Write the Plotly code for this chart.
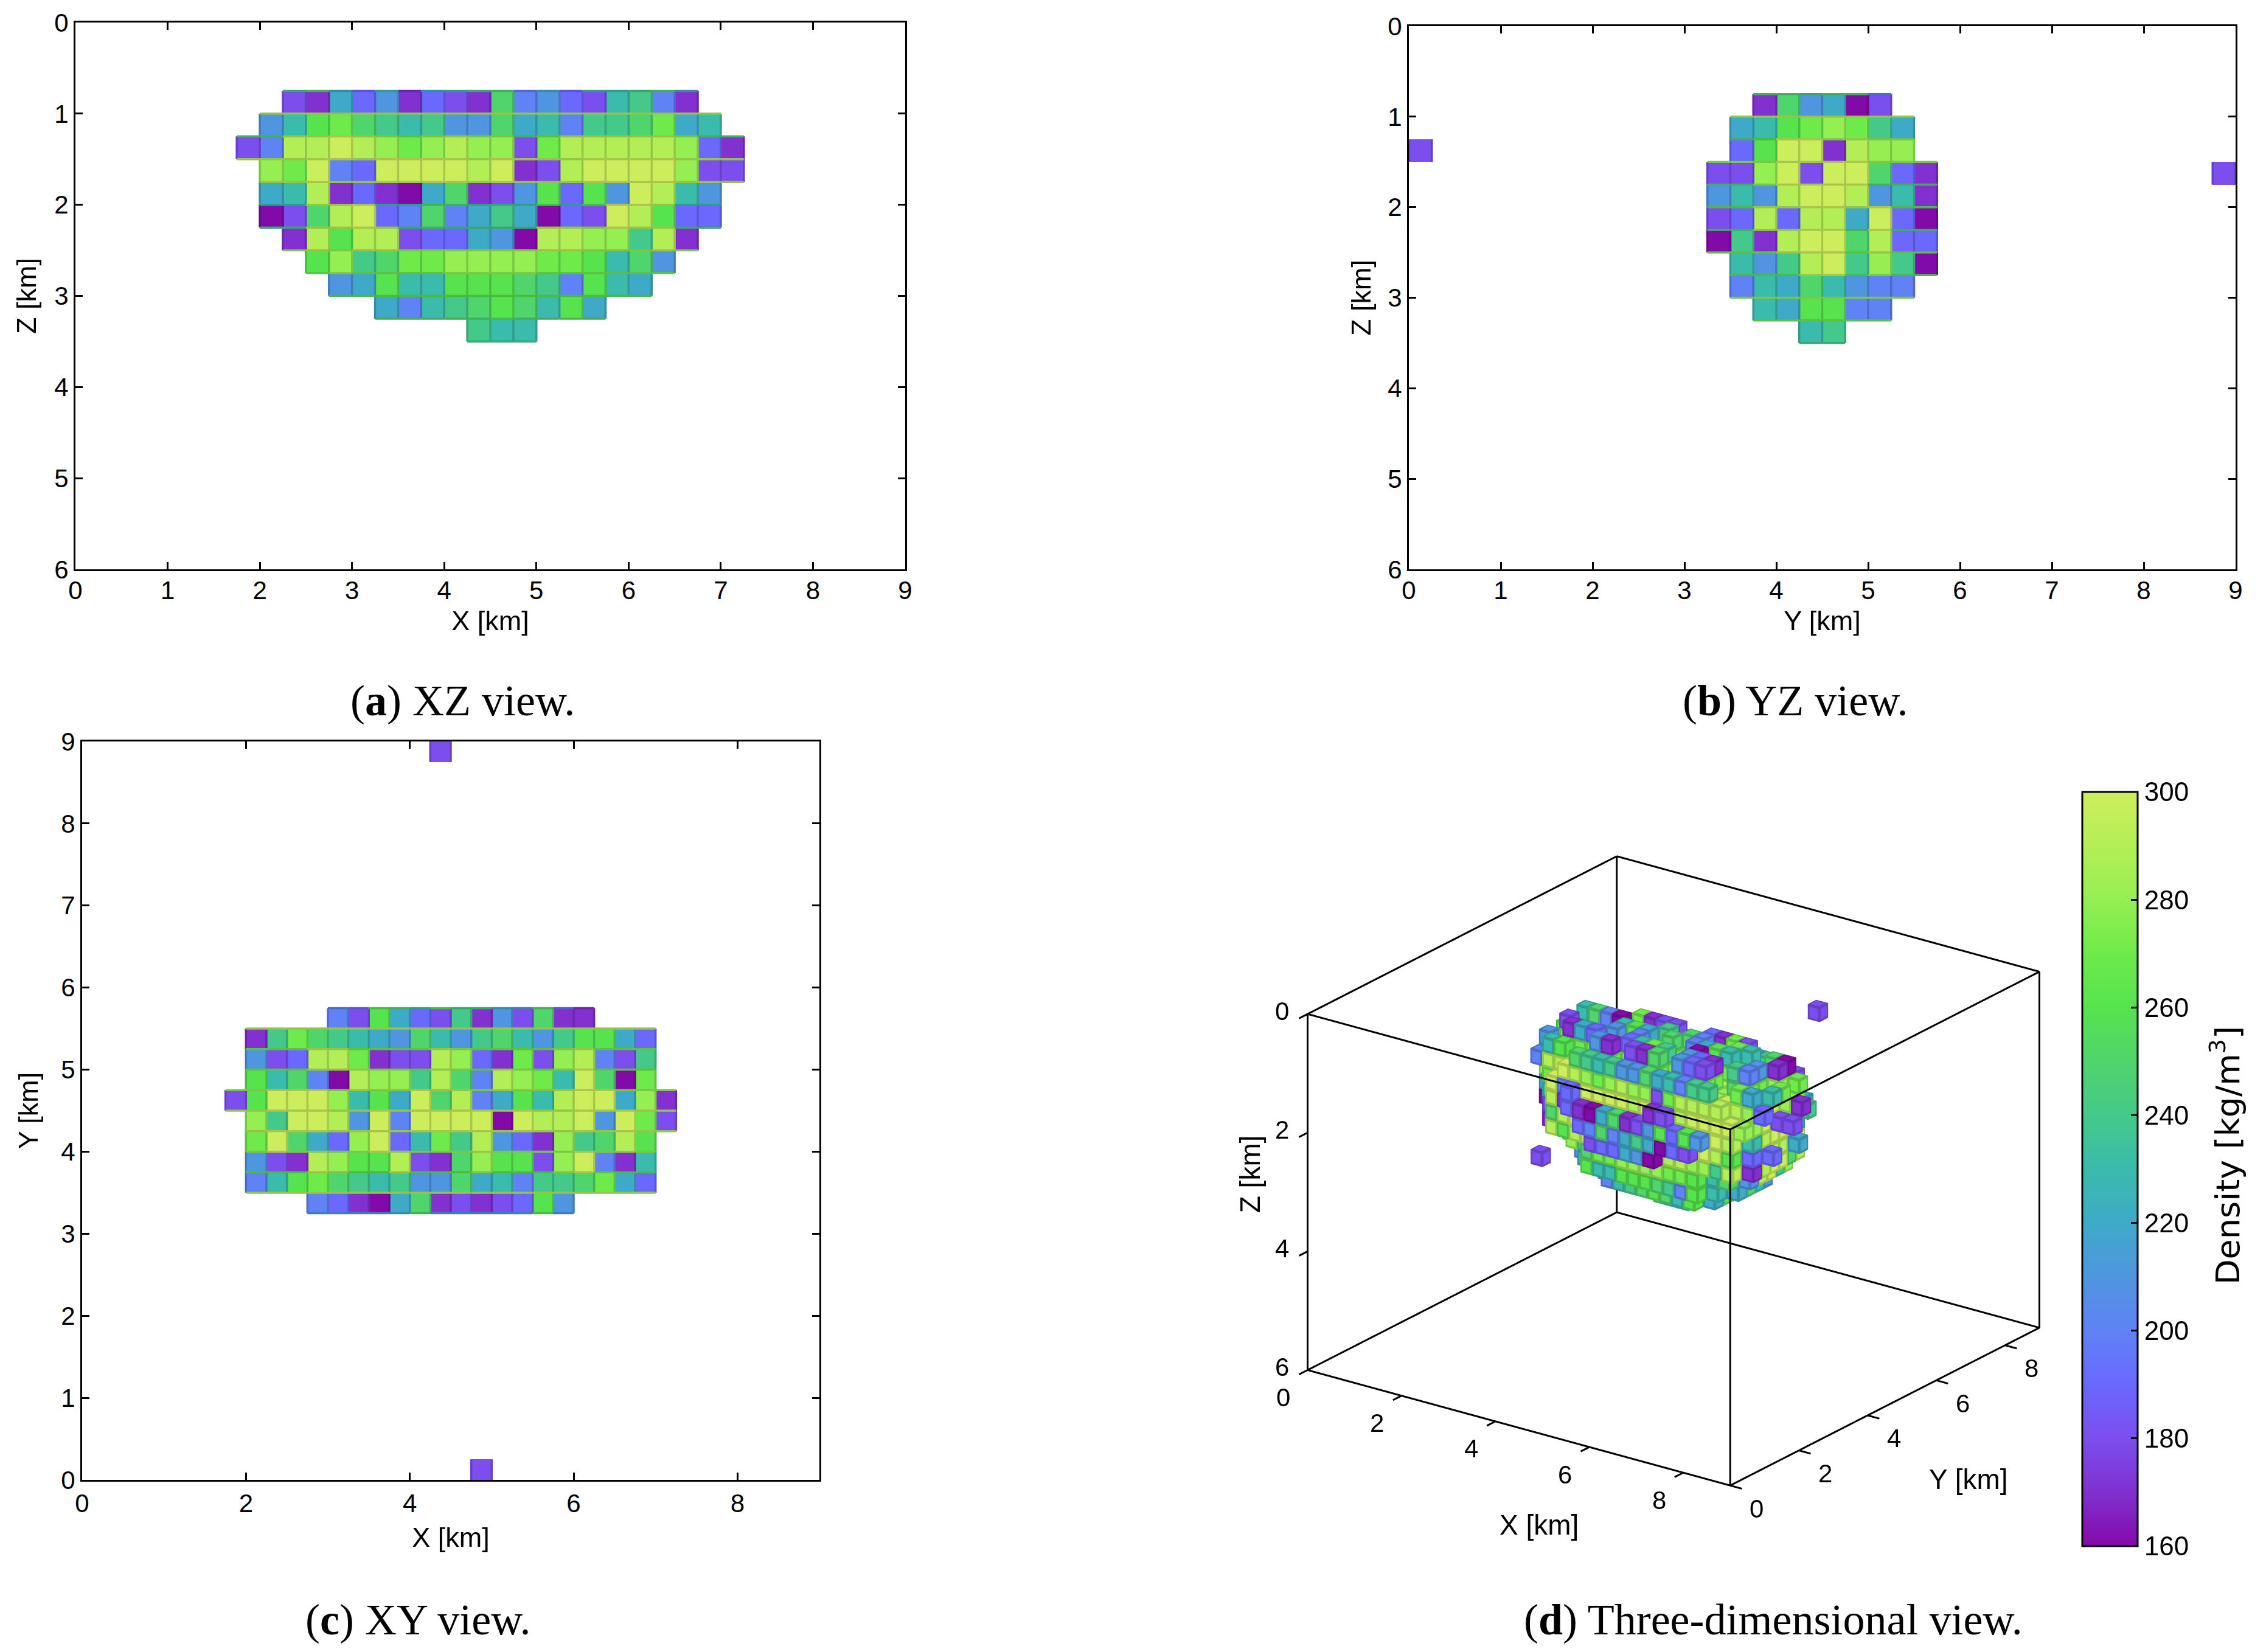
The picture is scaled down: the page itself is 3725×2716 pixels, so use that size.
import numpy as np
import plotly.graph_objects as go

W, H = 3725, 2716
STEP = 0.25
DENSITY_TICKS = [160, 180, 200, 220, 240, 260, 280, 300]
PALETTE = ["#820aa8", "#8230d0", "#7c4eee", "#6a68ff", "#5f82f5", "#5095df", "#3eaac8", "#3abbac",
           "#44c98a", "#50d46c", "#57e34e", "#6eea4a", "#95ef52", "#b4ee56", "#cdee5c"]
VMIN, VMAX = 160, 300

# XZ view: one list per depth row, z top edges in XZ_Z, x left edges in XZ_X0
XZ_Z = [0.75, 1.0, 1.25, 1.5, 1.75, 2.0, 2.25, 2.5, 2.75, 3.0, 3.25]
XZ_X0 = [2.25, 2.0, 1.75, 2.0, 2.0, 2.0, 2.25, 2.5, 2.75, 3.25, 4.25]
XZ_VALUES = [
    [180, 170, 220, 190, 210, 170, 190, 180, 170, 250, 200, 210, 190, 180, 230, 240, 200, 170],
    [210, 230, 260, 270, 250, 240, 230, 240, 210, 210, 250, 220, 230, 200, 240, 240, 250, 270, 220, 230],
    [180, 200, 290, 290, 300, 290, 280, 270, 280, 290, 280, 280, 180, 270, 290, 290, 290, 290, 290, 280, 190, 170],
    [280, 270, 300, 200, 190, 300, 300, 300, 300, 290, 300, 170, 180, 290, 300, 300, 300, 300, 280, 180, 180],
    [220, 230, 290, 170, 190, 170, 160, 220, 250, 170, 180, 210, 260, 190, 260, 210, 300, 290, 230, 210],
    [160, 180, 250, 290, 300, 190, 200, 250, 200, 220, 240, 220, 160, 190, 180, 300, 290, 260, 190, 190],
    [170, 290, 260, 290, 290, 180, 190, 190, 220, 210, 160, 290, 290, 280, 280, 240, 290, 170],
    [260, 280, 240, 250, 270, 270, 280, 280, 280, 280, 270, 270, 260, 230, 250, 210],
    [210, 220, 260, 230, 230, 260, 260, 260, 250, 240, 200, 260, 230, 220],
    [220, 200, 230, 240, 250, 260, 250, 230, 260, 220],
    [240, 230, 230],
]
XZ_TOP_EDGE = [240, 250, 220, 190, 230, 170, 220, 230, 240, 250, 200, 220, 190, 230, 230, 240, 250, 220]
XZ_EDGE_BASE = [0, 290, 250, 290, 290, 230, 240, 280, 270, 260, 250, 240]

# YZ view
YZ_Z = XZ_Z
YZ_Y0 = [3.75, 3.5, 3.5, 3.25, 3.25, 3.25, 3.25, 3.5, 3.5, 3.75, 4.25]
YZ_VALUES = [
    [170, 250, 210, 220, 160, 180],
    [220, 230, 260, 270, 280, 270, 240, 220],
    [190, 260, 300, 300, 170, 290, 280, 280],
    [180, 180, 280, 300, 180, 300, 300, 250, 190, 170],
    [210, 230, 210, 290, 300, 300, 290, 210, 230, 170],
    [180, 190, 290, 190, 290, 290, 220, 300, 190, 160],
    [160, 240, 170, 290, 300, 300, 250, 290, 190, 190],
    [230, 210, 240, 290, 300, 240, 280, 240, 160],
    [200, 230, 220, 250, 230, 210, 200, 200],
    [230, 220, 260, 260, 200, 200],
    [230, 240],
]
YZ_TOP_EDGE = [250, 250, 240, 250, 250, 200]
YZ_EDGE_BASE = [0, 290, 250, 280, 250, 260, 250, 270, 260, 280, 270, 240]

# XY view, rows from north to south
XY_Y = [5.5, 5.25, 5.0, 4.75, 4.5, 4.25, 4.0, 3.75, 3.5, 3.25]
XY_X0 = [3.0, 2.0, 2.0, 2.0, 1.75, 2.0, 2.0, 2.0, 2.0, 2.75]
XY_VALUES = [
    [200, 180, 260, 220, 190, 180, 240, 170, 210, 180, 250, 170, 170],
    [170, 240, 270, 250, 240, 230, 220, 210, 250, 230, 210, 240, 250, 230, 210, 240, 260, 260, 220, 190],
    [210, 180, 190, 290, 290, 270, 170, 180, 180, 290, 280, 190, 170, 270, 180, 280, 290, 200, 180, 240],
    [260, 230, 250, 200, 160, 290, 280, 280, 240, 290, 250, 200, 290, 280, 270, 230, 300, 250, 160, 270],
    [180, 260, 300, 300, 300, 280, 230, 260, 220, 300, 250, 290, 200, 220, 260, 230, 290, 300, 300, 220, 280, 170],
    [280, 240, 300, 300, 290, 210, 300, 200, 300, 300, 300, 300, 160, 300, 290, 290, 300, 210, 300, 270, 180],
    [270, 300, 250, 220, 190, 280, 300, 190, 230, 270, 240, 290, 210, 190, 170, 280, 240, 250, 290, 260],
    [210, 180, 170, 290, 280, 260, 260, 290, 180, 170, 250, 280, 260, 260, 180, 280, 300, 200, 170, 230],
    [200, 230, 260, 270, 250, 240, 230, 240, 210, 210, 250, 220, 230, 200, 240, 240, 250, 270, 220, 190],
    [200, 190, 170, 160, 220, 250, 170, 180, 170, 180, 190, 260, 210],
]
XY_TOP_EDGE = [200, 190, 260, 250, 230, 260, 240, 240, 220, 210, 250, 190, 170]
XY_EDGE_BASE = [0, 290, 270, 270, 280, 290, 290, 280, 260, 290, 210]

# the two stray cells
STRAY_X = [4.75, 4.25]
STRAY_Y = [0.0, 8.75]
STRAY_Z = [1.25, 1.5]
STRAY_V = [180, 180]


def hexrgb(c):
    return tuple(int(c[i:i + 2], 16) for i in (1, 3, 5))


def color_of(v, f=1.0):
    t = (v - VMIN) / (VMAX - VMIN) * (len(PALETTE) - 1)
    i = min(int(round(t)), len(PALETTE) - 1)
    r, g, b = hexrgb(PALETTE[i])
    return "rgb(%d,%d,%d)" % (r * f, g * f, b * f)


colorscale = [[i / (len(PALETTE) - 1), c] for i, c in enumerate(PALETTE)]
fig = go.Figure()
EDGE = 0.83


def add_panel(rows, axis, cols0, rowv, base, top, xname, yname, strays, descending=False):
    xs = np.arange(0, 9, STEP)
    ys = np.arange(0, 9, STEP)
    grid = np.full((len(ys), len(xs)), np.nan)
    cells = {}
    for r, vals in enumerate(rows):
        for c, v in enumerate(vals):
            ix = int(round((cols0[r] + c * STEP) / STEP))
            iy = int(round(rowv[r] / STEP))
            grid[iy, ix] = v
            cells[(ix, iy)] = v
    for sx, sy, v in strays:
        grid[int(round(sy / STEP)), int(round(sx / STEP))] = v
        cells[(int(round(sx / STEP)), int(round(sy / STEP)))] = v
    fig.add_trace(go.Heatmap(x=xs + STEP / 2, y=ys + STEP / 2, z=grid, coloraxis="coloraxis",
                             xaxis=axis[0], yaxis=axis[1], hoverinfo="skip"))
    segs_v, segs_h = {}, {}
    for (ix, iy), v in cells.items():
        x0, x1 = ix * STEP, (ix + 1) * STEP
        y0, y1 = iy * STEP, (iy + 1) * STEP
        segs_v.setdefault(v, []).append(((x1, y0), (x1, y1)))
        if (ix - 1, iy) not in cells:
            segs_v.setdefault(v, []).append(((x0, y0), (x0, y1)))
    for r, vals in enumerate(rows):
        for c, v in enumerate(vals):
            ix = int(round((cols0[r] + c * STEP) / STEP))
            iy = int(round(rowv[r] / STEP))
            x0, x1 = ix * STEP, (ix + 1) * STEP
            if descending:
                edge_y, other = (iy + 1) * STEP, (ix, iy + 1)
            else:
                edge_y, other = iy * STEP, (ix, iy - 1)
            if r == 0:
                ev = top[c]
            else:
                ev = max(v, cells.get(other, 0), base[r])
            segs_h.setdefault(ev, []).append(((x0, edge_y), (x1, edge_y)))
            if descending:
                e2y, o2 = iy * STEP, (ix, iy - 1)
            else:
                e2y, o2 = (iy + 1) * STEP, (ix, iy + 1)
            if o2 not in cells:
                ev2 = max(v, base[min(r + 1, len(base) - 1)])
                segs_h.setdefault(ev2, []).append(((x0, e2y), (x1, e2y)))
    for group in (segs_v, segs_h):
        for v, segs in sorted(group.items()):
            lx, ly = [], []
            for (a, b) in segs:
                lx += [a[0], b[0], None]
                ly += [a[1], b[1], None]
            fig.add_trace(go.Scatter(x=lx, y=ly, mode="lines", xaxis=axis[0], yaxis=axis[1],
                                     line=dict(color=color_of(v, EDGE), width=3.5),
                                     hoverinfo="skip", showlegend=False))


add_panel(XZ_VALUES, ("x", "y"), XZ_X0, XZ_Z, XZ_EDGE_BASE, XZ_TOP_EDGE, "X", "Z", [])
add_panel(YZ_VALUES, ("x2", "y2"), YZ_Y0, YZ_Z, YZ_EDGE_BASE, YZ_TOP_EDGE, "Y", "Z",
          [(STRAY_Y[i], STRAY_Z[i], STRAY_V[i]) for i in range(2)])
add_panel(XY_VALUES, ("x3", "y3"), XY_X0, XY_Y, XY_EDGE_BASE, XY_TOP_EDGE, "X", "Y",
          [(STRAY_X[i], STRAY_Y[i], STRAY_V[i]) for i in range(2)], descending=True)


def axis_style(title, dom, rng, ticks, standoff):
    return dict(domain=dom, range=rng, tickvals=ticks, ticktext=[str(t) for t in ticks], ticks="inside",
                ticklen=12, tickwidth=3, tickcolor="black", showline=True, linecolor="black", linewidth=3,
                mirror="ticks", showgrid=False, zeroline=False, title=dict(text=title, standoff=standoff,
                font=dict(family="Liberation Sans", size=45, color="black")),
                tickfont=dict(family="Liberation Sans", size=42, color="black"))


def px_x(a, b):
    return [a / W, b / W]


def px_y(top, bottom):
    return [1 - bottom / H, 1 - top / H]


layout = dict(width=W, height=H, autosize=False, margin=dict(l=0, r=0, t=0, b=0, autoexpand=False),
              paper_bgcolor="white", plot_bgcolor="white", showlegend=False)
layout["xaxis"] = axis_style("X [km]", px_x(124, 1488), [0, 9], list(range(10)), 12)
layout["xaxis"]["anchor"] = "y"
layout["xaxis"]["ticklabelstandoff"] = -4
layout["yaxis"] = axis_style("Z [km]", px_y(37, 936), [6, 0], list(range(7)), 16)
layout["yaxis"]["anchor"] = "x"
layout["xaxis2"] = axis_style("Y [km]", px_x(2316, 3675), [0, 9], list(range(10)), 12)
layout["xaxis2"]["anchor"] = "y2"
layout["xaxis2"]["ticklabelstandoff"] = -4
layout["yaxis2"] = axis_style("Z [km]", px_y(43, 936), [6, 0], list(range(7)), 14)
layout["yaxis2"]["anchor"] = "x2"
layout["xaxis3"] = axis_style("X [km]", px_x(135, 1347), [0, 9], [0, 2, 4, 6, 8], 18)
layout["xaxis3"]["anchor"] = "y3"
layout["yaxis3"] = axis_style("Y [km]", px_y(1219, 2433), [0, 9], list(range(10)), 24)
layout["yaxis3"]["anchor"] = "x3"

# ---------- 3D voxels rebuilt from the three surface views ----------
xz = {}
for r, vals in enumerate(XZ_VALUES):
    for c, v in enumerate(vals):
        xz[(int(round((XZ_X0[r] + c * STEP) / STEP)), int(round(XZ_Z[r] / STEP)))] = v
yz = {}
for r, vals in enumerate(YZ_VALUES):
    for c, v in enumerate(vals):
        yz[(int(round((YZ_Y0[r] + c * STEP) / STEP)), int(round(YZ_Z[r] / STEP)))] = v
xy = {}
for r, vals in enumerate(XY_VALUES):
    for c, v in enumerate(vals):
        xy[(int(round((XY_X0[r] + c * STEP) / STEP)), int(round(XY_Y[r] / STEP)))] = v

vox = set()
for k in sorted({key[1] for key in xz}):
    ixs = [key[0] for key in xz if key[1] == k]
    iys = [key[0] for key in yz if key[1] == k]
    cx, a = (min(ixs) + max(ixs)) / 2, (max(ixs) - min(ixs) + 1) / 2
    cy, b = (min(iys) + max(iys)) / 2, (max(iys) - min(iys) + 1) / 2
    for i in ixs:
        for j in iys:
            if (i, j) not in xy:
                continue
            if (abs(i - cx) / a) ** 2.5 + (abs(j - cy) / b) ** 2.5 <= 1.05:
                vox.add((i, j, k))

# low-density shell sits over a dense core: dense readings sit one step in
CORE_Y, CORE_X, CORE_Z = 14, 26, 5
vox = {(i, j, k) for (i, j, k) in vox
       if not (j < CORE_Y and xz.get((i, k), 0) >= 280)
       and not (i > CORE_X and yz.get((j, k), 0) >= 280)
       and not (k < CORE_Z and xy.get((i, j), 0) >= 280)}

value = {}
for (i, k), v in xz.items():
    c = [p for p in vox if p[0] == i and p[2] == k]
    if c:
        value.setdefault(min(c, key=lambda p: p[1]), v)
for (i, j), v in xy.items():
    c = [p for p in vox if p[0] == i and p[1] == j]
    if c:
        value.setdefault(min(c, key=lambda p: p[2]), v)
for (j, k), v in yz.items():
    c = [p for p in vox if p[1] == j and p[2] == k]
    if c:
        value.setdefault(max(c, key=lambda p: p[0]), v)
for sx, sy, sz, sv in zip(STRAY_X, STRAY_Y, STRAY_Z, STRAY_V):
    p = (int(round(sx / STEP)), int(round(sy / STEP)), int(round(sz / STEP)))
    vox.add(p)
    value[p] = sv

VX, VY, VZ, TI, TJ, TK, TC = [], [], [], [], [], [], []


def add_quad(pts, col):
    n = len(VX)
    for p in pts:
        VX.append(p[0]); VY.append(p[1]); VZ.append(p[2])
    TI.extend([n, n]); TJ.extend([n + 1, n + 2]); TK.extend([n + 2, n + 3])
    TC.extend([col, col])


def add_face(o, u, w, v):
    """Face from origin o, spanned by u, w; inner quad plus a darker frame."""
    o, u, w = np.array(o), np.array(u), np.array(w)
    inset = 0.15
    corner = lambda s, t: o + s * u + t * w
    main, dark = color_of(v), color_of(v, EDGE)
    add_quad([corner(inset, inset), corner(1 - inset, inset), corner(1 - inset, 1 - inset), corner(inset, 1 - inset)], main)
    add_quad([corner(0, 0), corner(1, 0), corner(1, inset), corner(0, inset)], dark)
    add_quad([corner(0, 1 - inset), corner(1, 1 - inset), corner(1, 1), corner(0, 1)], dark)
    add_quad([corner(0, inset), corner(inset, inset), corner(inset, 1 - inset), corner(0, 1 - inset)], dark)
    add_quad([corner(1 - inset, inset), corner(1, inset), corner(1, 1 - inset), corner(1 - inset, 1 - inset)], dark)


for (i, j, k) in vox:
    v = value.get((i, j, k), 270)
    x0, y0, z0 = i * STEP, j * STEP, k * STEP
    if (i, j - 1, k) not in vox:
        add_face((x0, y0, z0), (STEP, 0, 0), (0, 0, STEP), v)
    if (i + 1, j, k) not in vox:
        add_face((x0 + STEP, y0, z0), (0, STEP, 0), (0, 0, STEP), v)
    if (i, j, k - 1) not in vox:
        add_face((x0, y0, z0), (STEP, 0, 0), (0, STEP, 0), v)

fig.add_trace(go.Mesh3d(x=VX, y=VY, z=VZ, i=TI, j=TJ, k=TK, facecolor=TC, flatshading=True, scene="scene",
                        lighting=dict(ambient=1, diffuse=0, specular=0, roughness=1, fresnel=0),
                        hoverinfo="skip", showscale=False))

XMAX, YMAX, ZMAX = 9, 9, 6
bx, by, bz = [], [], []
for y_ in (0, YMAX):
    for z_ in (0, ZMAX):
        bx += [0, XMAX, None]; by += [y_, y_, None]; bz += [z_, z_, None]
for x_ in (0, XMAX):
    for z_ in (0, ZMAX):
        bx += [x_, x_, None]; by += [0, YMAX, None]; bz += [z_, z_, None]
for x_ in (0, XMAX):
    for y_ in (0, YMAX):
        bx += [x_, x_, None]; by += [y_, y_, None]; bz += [0, ZMAX, None]
TICK3D = 0.25
tick_x3 = [0, 2, 4, 6, 8]
tick_y3 = [0, 2, 4, 6, 8]
tick_z3 = [0, 2, 4, 6]
for t in tick_x3:
    bx += [t, t, None]; by += [0, -TICK3D, None]; bz += [ZMAX, ZMAX, None]
for t in tick_y3:
    bx += [XMAX, XMAX + TICK3D, None]; by += [t, t, None]; bz += [ZMAX, ZMAX, None]
for t in tick_z3:
    bx += [0, 0, None]; by += [0, -TICK3D, None]; bz += [t, t, None]
fig.add_trace(go.Scatter3d(x=bx, y=by, z=bz, mode="lines", line=dict(color="black", width=6), scene="scene",
                           hoverinfo="skip", showlegend=False))


def a3(x, y, z, text, dx, dy, size=42, angle=0):
    return dict(x=x, y=y, z=z, text=text, showarrow=False, xshift=dx, yshift=-dy, textangle=angle,
                font=dict(family="Liberation Sans", size=size, color="black"))


scene_ann = []
for t in tick_x3:
    scene_ann.append(a3(t, 0, ZMAX, str(t), -40, 45))
for t in tick_y3:
    scene_ann.append(a3(XMAX, t, ZMAX, str(t), 43, 38))
for t in tick_z3:
    scene_ann.append(a3(0, 0, t, str(t), -42, -5))
scene_ann.append(a3(4.5, 0, ZMAX, "X [km]", 33, 160, 46))
scene_ann.append(a3(XMAX, 4.5, ZMAX, "Y [km]", 138, 119, 46))
scene_ann.append(a3(0, 0, 3, "Z [km]", -95, -30, 46, -90))

hidden = dict(showgrid=False, zeroline=False, showline=False, showticklabels=False, ticks="", showbackground=False,
              showspikes=False, title=dict(text=""))
E = 1.5
SCENE_SCALE = 1.1727
layout["scene"] = dict(
    domain=dict(x=px_x(1968, 3534), y=px_y(1142, 2708)),
    aspectmode="manual", aspectratio=dict(x=SCENE_SCALE, y=SCENE_SCALE, z=0.733 * SCENE_SCALE),
    xaxis=dict(range=[-0.3, 9.3], **hidden), yaxis=dict(range=[-0.3, 9.3], **hidden),
    zaxis=dict(range=[6.2, -0.2], **hidden),
    camera=dict(projection=dict(type="orthographic"), up=dict(x=0, y=0, z=1), center=dict(x=0, y=0, z=0),
                eye=dict(x=0.548 * E, y=-0.749 * E, z=0.3735 * E)),
    annotations=scene_ann, bgcolor="rgba(0,0,0,0)", dragmode=False)

layout["coloraxis"] = dict(
    colorscale=colorscale, cmin=VMIN, cmax=VMAX,
    colorbar=dict(x=3423 / W, xanchor="left", xpad=0, ypad=0, y=1 - 1922 / H, yanchor="middle", len=1240,
                  lenmode="pixels", thickness=91, thicknessmode="pixels", outlinewidth=3, outlinecolor="black",
                  ticks="inside", ticklen=12, tickwidth=3, tickcolor="black", tickvals=DENSITY_TICKS,
                  tickfont=dict(family="Liberation Sans", size=44, color="black")))

BAR_TOP, BAR_LEN, BAR_LEFT = 1302, 1240, 3423
layout["shapes"] = [dict(type="line", xref="paper", yref="paper", x0=BAR_LEFT / W, x1=(BAR_LEFT + 12) / W,
                         y0=1 - (BAR_TOP + (VMAX - v) / (VMAX - VMIN) * BAR_LEN) / H,
                         y1=1 - (BAR_TOP + (VMAX - v) / (VMAX - VMIN) * BAR_LEN) / H,
                         line=dict(color="black", width=3)) for v in DENSITY_TICKS[1:-1]]

CAPTION_X = [760, 2951, 687, 2915]
CAPTION_Y = [1152, 1152, 2663, 2663]
CAPTIONS = ["(<b>a</b>) XZ view.", "(<b>b</b>) YZ view.", "(<b>c</b>) XY view.", "(<b>d</b>) Three-dimensional view."]
layout["annotations"] = [dict(x=cx / W, y=1 - cy / H, xref="paper", yref="paper", text=t, showarrow=False,
                              xanchor="center", yanchor="middle",
                              font=dict(family="Liberation Serif", size=72, color="black"))
                         for cx, cy, t in zip(CAPTION_X, CAPTION_Y, CAPTIONS)]
layout["annotations"].append(dict(x=3659 / W, y=1 - 1900 / H, xref="paper", yref="paper",
                                  text="Density [kg/m<sup>3</sup>]", showarrow=False, textangle=-90,
                                  xanchor="center", yanchor="middle",
                                  font=dict(family="DejaVu Sans", size=54, color="black")))

fig.update_layout(**layout)
fig.write_html("out.html", post_script="document.body.style.margin='0';", config=dict(displayModeBar=False))
